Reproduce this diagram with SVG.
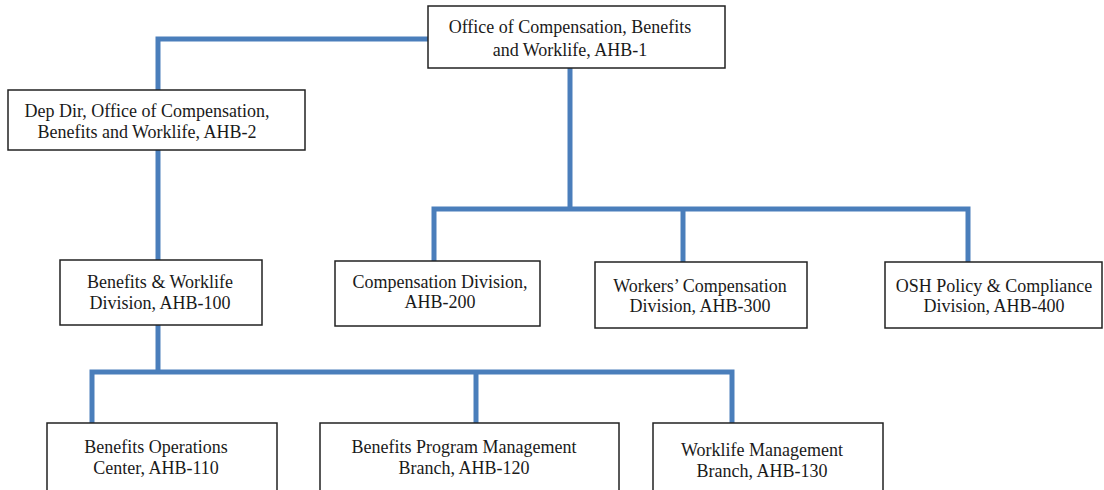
<svg xmlns="http://www.w3.org/2000/svg" width="1104" height="490" viewBox="0 0 1104 490">
  <style>
    .box { fill: #ffffff; stroke: #222222; stroke-width: 1.5; }
    .lbl { font-family: 'Liberation Serif', 'DejaVu Serif', serif; font-size: 18px; fill: #1a1a1a; text-anchor: middle; }
    .wire { fill: none; stroke: #4a7ebb; stroke-width: 5; stroke-linejoin: miter; stroke-linecap: butt; }
  </style>
  <rect x="0" y="0" width="1104" height="490" fill="#ffffff"/>

  <!-- reporting lines -->
  <g id="connectors">
    <!-- director to deputy -->
    <polyline class="wire" points="428,39 158,39 158,90"/>
    <!-- deputy to Benefits & Worklife -->
    <line class="wire" x1="158" y1="150" x2="158" y2="260"/>
    <!-- director to divisions -->
    <line class="wire" x1="570" y1="68" x2="570" y2="209"/>
    <polyline class="wire" points="434,261 434,209 968,209 968,262"/>
    <line class="wire" x1="683" y1="209" x2="683" y2="262"/>
    <!-- Benefits & Worklife to branches -->
    <line class="wire" x1="158" y1="325" x2="158" y2="372"/>
    <polyline class="wire" points="92,423 92,372 732,372 732,423"/>
    <line class="wire" x1="476" y1="372" x2="476" y2="423"/>
  </g>

  <g id="ahb-1">
    <rect class="box" x="428" y="6" width="297" height="62"/>
    <text class="lbl" x="570" y="33">Office of Compensation, Benefits</text>
    <text class="lbl" x="570" y="56">and Worklife, AHB-1</text>
  </g>

  <g id="ahb-2">
    <rect class="box" x="8" y="90" width="297" height="60"/>
    <text class="lbl" x="147" y="117">Dep Dir, Office of Compensation,</text>
    <text class="lbl" x="147" y="138">Benefits and Worklife, AHB-2</text>
  </g>

  <g id="ahb-100">
    <rect class="box" x="60" y="260" width="202" height="65"/>
    <text class="lbl" x="160" y="288">Benefits &amp; Worklife</text>
    <text class="lbl" x="160" y="309">Division, AHB-100</text>
  </g>

  <g id="ahb-200">
    <rect class="box" x="335" y="261" width="205" height="65"/>
    <text class="lbl" x="440" y="288">Compensation Division,</text>
    <text class="lbl" x="440" y="308">AHB-200</text>
  </g>

  <g id="ahb-300">
    <rect class="box" x="595" y="262" width="212" height="66"/>
    <text class="lbl" x="700" y="292">Workers’ Compensation</text>
    <text class="lbl" x="700" y="312">Division, AHB-300</text>
  </g>

  <g id="ahb-400">
    <rect class="box" x="885" y="262" width="217" height="66"/>
    <text class="lbl" x="994" y="292">OSH Policy &amp; Compliance</text>
    <text class="lbl" x="994" y="312">Division, AHB-400</text>
  </g>

  <g id="ahb-110">
    <rect class="box" x="47" y="423" width="230" height="80"/>
    <text class="lbl" x="156" y="453">Benefits Operations</text>
    <text class="lbl" x="156" y="474">Center, AHB-110</text>
  </g>

  <g id="ahb-120">
    <rect class="box" x="320" y="423" width="299" height="80"/>
    <text class="lbl" x="464" y="453">Benefits Program Management</text>
    <text class="lbl" x="464" y="474">Branch, AHB-120</text>
  </g>

  <g id="ahb-130">
    <rect class="box" x="653" y="423" width="230" height="80"/>
    <text class="lbl" x="762" y="456">Worklife Management</text>
    <text class="lbl" x="762" y="477">Branch, AHB-130</text>
  </g>
</svg>
